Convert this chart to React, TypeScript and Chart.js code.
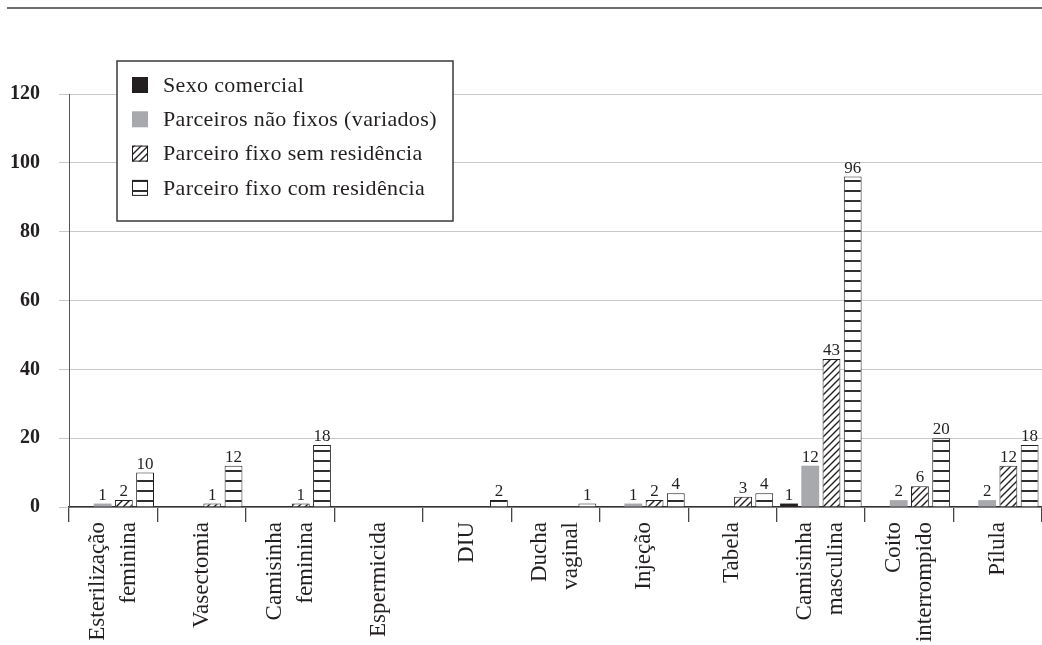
import React, { useEffect, useRef } from 'react';
import { Chart, registerables } from 'chart.js';

Chart.register(...registerables);

// Contraceptive methods (x categories), split into display lines
const categories: string[][] = [
  ['Esterilização', 'feminina'],
  ['Vasectomia'],
  ['Camisinha', 'feminina'],
  ['Espermicida'],
  ['DIU'],
  ['Ducha', 'vaginal'],
  ['Injeção'],
  ['Tabela'],
  ['Camisinha', 'masculina'],
  ['Coito', 'interrompido'],
  ['Pílula'],
];

const seriesNames = [
  'Sexo comercial',
  'Parceiros não fixos (variados)',
  'Parceiro fixo sem residência',
  'Parceiro fixo com residência',
];

const sexoComercial: (number | null)[] = [null, null, null, null, null, null, null, null, 1, null, null];
const parceirosNaoFixos: (number | null)[] = [1, null, null, null, null, null, 1, null, 12, 2, 2];
const fixoSemResidencia: (number | null)[] = [2, 1, 1, null, null, null, 2, 3, 43, 6, 12];
const fixoComResidencia: (number | null)[] = [10, 12, 18, null, 2, 1, 4, 4, 96, 20, 18];

const yTicks = [0, 20, 40, 60, 80, 100, 120];

const INK = '#231f20';
const GREY = '#a7a9ac';
const SERIF = '"Liberation Serif", "Times New Roman", serif';

function diagonalPattern(): CanvasPattern {
  const s = 7;
  const c = document.createElement('canvas');
  c.width = s;
  c.height = s;
  const g = c.getContext('2d')!;
  g.fillStyle = '#ffffff';
  g.fillRect(0, 0, s, s);
  g.strokeStyle = INK;
  g.lineWidth = 1.4;
  g.beginPath();
  g.moveTo(0, s);
  g.lineTo(s, 0);
  g.moveTo(-1, 1);
  g.lineTo(1, -1);
  g.moveTo(s - 1, s + 1);
  g.lineTo(s + 1, s - 1);
  g.stroke();
  return g.createPattern(c, 'repeat')!;
}

function horizontalPattern(): CanvasPattern {
  const c = document.createElement('canvas');
  c.width = 4;
  c.height = 10;
  const g = c.getContext('2d')!;
  g.fillStyle = '#ffffff';
  g.fillRect(0, 0, 4, 10);
  g.fillStyle = '#2f2f2f';
  g.fillRect(0, 0, 4, 2);
  return g.createPattern(c, 'repeat')!;
}

// Thin rule across the top of the figure
const topRulePlugin = {
  id: 'topRule',
  beforeDraw(chart: any) {
    const ctx = chart.ctx;
    ctx.save();
    ctx.fillStyle = '#6d6e71';
    ctx.fillRect(7, 7, chart.width - 7, 2);
    ctx.restore();
  },
};

// Vertical category names under the axis
const xLabelPlugin = {
  id: 'xLabels',
  afterDraw(chart: any) {
    const ctx = chart.ctx;
    const xs = chart.scales.x;
    const lh = 31;
    ctx.save();
    ctx.font = `23px ${SERIF}`;
    ctx.fillStyle = INK;
    ctx.textAlign = 'right';
    ctx.textBaseline = 'middle';
    categories.forEach((lines, i) => {
      const cx = xs.getPixelForValue(i);
      lines.forEach((line, k) => {
        const x = cx + (k - (lines.length - 1) / 2) * lh;
        ctx.save();
        ctx.translate(x, xs.top + 15);
        ctx.rotate(-Math.PI / 2);
        ctx.fillText(line, 0, 0);
        ctx.restore();
      });
    });
    ctx.restore();
  },
};

// Value printed above each bar
const valueLabelPlugin = {
  id: 'valueLabels',
  afterDatasetsDraw(chart: any) {
    const ctx = chart.ctx;
    ctx.save();
    ctx.font = `17px ${SERIF}`;
    ctx.fillStyle = INK;
    ctx.textAlign = 'center';
    ctx.textBaseline = 'alphabetic';
    chart.data.datasets.forEach((ds: any, di: number) => {
      const meta = chart.getDatasetMeta(di);
      meta.data.forEach((bar: any, i: number) => {
        const v = ds.data[i];
        if (v === null || v === undefined) return;
        ctx.fillText(String(v), bar.x, bar.y - 4);
      });
    });
    ctx.restore();
  },
};

// Boxed legend sitting inside the plot area
const boxLegendPlugin = {
  id: 'boxLegend',
  afterDraw(chart: any) {
    const ctx = chart.ctx;
    const left = chart.chartArea.left + 48;
    const top = 61;
    const w = 336;
    const h = 160;
    ctx.save();
    ctx.fillStyle = '#ffffff';
    ctx.fillRect(left, top, w, h);
    ctx.strokeStyle = '#3a3a3a';
    ctx.lineWidth = 1.5;
    ctx.strokeRect(left, top, w, h);
    ctx.font = `22px ${SERIF}`;
    (ctx as any).letterSpacing = '0.35px';
    ctx.textAlign = 'left';
    ctx.textBaseline = 'middle';
    chart.data.datasets.forEach((ds: any, i: number) => {
      const cy = top + 24 + i * 34.3;
      const sx = left + 15;
      const sy = cy - 8;
      ctx.fillStyle = ds.backgroundColor;
      ctx.fillRect(sx, sy, 16, 16);
      if (ds.borderWidth) {
        ctx.strokeStyle = INK;
        ctx.lineWidth = 1;
        ctx.strokeRect(sx + 0.5, sy + 0.5, 15, 15);
      }
      ctx.fillStyle = INK;
      ctx.fillText(ds.label, left + 46, cy + 1);
    });
    ctx.restore();
  },
};

export default function App() {
  const canvasRef = useRef<HTMLCanvasElement | null>(null);

  useEffect(() => {
    if (!canvasRef.current) return;
    const values = [sexoComercial, parceirosNaoFixos, fixoSemResidencia, fixoComResidencia];
    const fills: (string | CanvasPattern)[] = [INK, GREY, diagonalPattern(), horizontalPattern()];
    const borders = [0, 0, 1, 1];

    const chart = new Chart(canvasRef.current, {
      type: 'bar',
      data: {
        labels: categories.map((c) => c.join(' ')),
        datasets: values.map((data, i) => ({
          label: seriesNames[i],
          data,
          backgroundColor: fills[i] as any,
          borderColor: INK,
          borderWidth: borders[i],
          borderSkipped: 'start' as const,
          categoryPercentage: 0.96,
          barPercentage: 0.84,
        })),
      },
      options: {
        responsive: false,
        animation: false,
        devicePixelRatio: 1,
        layout: { padding: { top: 94, right: 0, left: 0, bottom: 0 } },
        plugins: {
          legend: { display: false },
          tooltip: { enabled: false },
        },
        scales: {
          x: {
            grid: {
              offset: true,
              drawOnChartArea: false,
              drawTicks: true,
              tickLength: 15,
              color: '#444',
              lineWidth: 1.3,
            },
            border: { color: '#333', width: 1.5 },
            ticks: { display: false },
            afterFit: (s: any) => {
              s.height = 138;
            },
          },
          y: {
            min: yTicks[0],
            max: yTicks[yTicks.length - 1],
            ticks: {
              stepSize: yTicks[1] - yTicks[0],
              color: INK,
              padding: 19,
              font: { family: SERIF, size: 20, weight: 'bold' },
            },
            grid: {
              color: '#c9c9c9',
              tickColor: '#c9c9c9',
              tickLength: 10,
              lineWidth: 1,
            },
            border: { color: '#555', width: 1 },
            afterFit: (s: any) => {
              s.width = 69;
            },
          },
        },
      },
      plugins: [topRulePlugin, xLabelPlugin, valueLabelPlugin, boxLegendPlugin],
    });

    return () => chart.destroy();
  }, []);

  return (
    <div style={{ position: 'fixed', left: 0, top: 0, width: 1042, height: 645, background: '#fff' }}>
      <canvas ref={canvasRef} width={1042} height={645} style={{ display: 'block' }} />
    </div>
  );
}
